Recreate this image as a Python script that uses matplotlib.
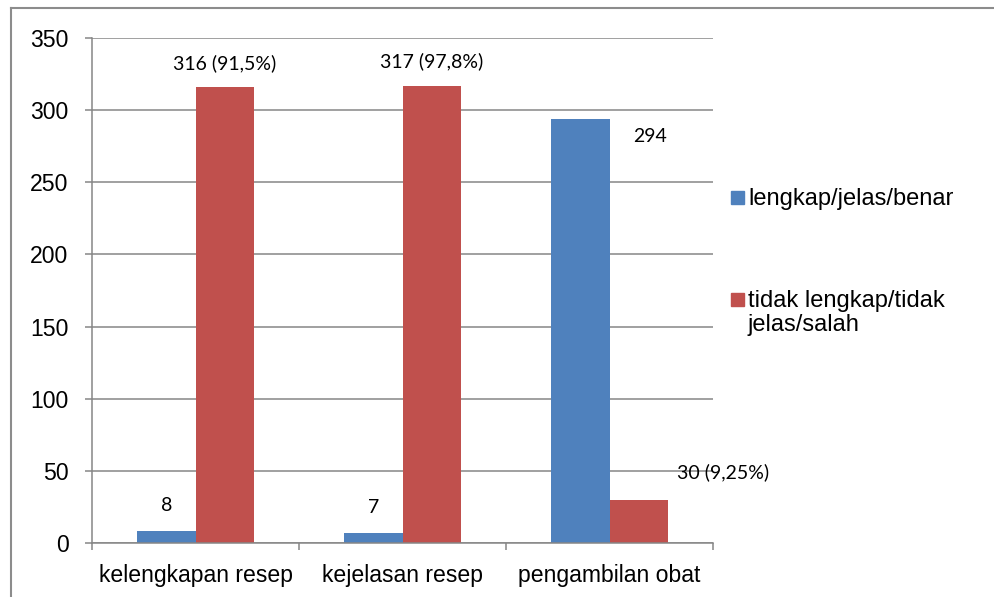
import matplotlib.pyplot as plt
import numpy as np
from matplotlib.patches import Rectangle
from matplotlib.lines import Line2D

categories = ["kelengkapan resep", "kejelasan resep", "pengambilan obat"]
series_names = ["lengkap/jelas/benar", "tidak lengkap/tidak\njelas/salah"]
benar = [8, 7, 294]
salah = [316, 317, 30]
benar_labels = ["8", "7", "294"]
salah_labels = ["316 (91,5%)", "317 (97,8%)", "30 (9,25%)"]
y_ticks = [0, 50, 100, 150, 200, 250, 300, 350]

colors = ["#4F81BD", "#C0504D"]
grid_color = "#868686"
num_font = "Lato"
txt_font = "Liberation Sans"
fs = 16.6

fig = plt.figure(figsize=(9.95, 5.97), dpi=100)
ax = fig.add_axes([0.0925, 0.0905, 0.6241, 0.8458])

x = np.arange(len(categories)) + 0.5
w = 0.283
bars_b = ax.bar(x - w / 2, benar, w, color=colors[0], zorder=3)
bars_s = ax.bar(x + w / 2, salah, w, color=colors[1], zorder=3)

ax.set_xlim(0, 3)
ax.set_ylim(0, 350)
ax.set_yticks(y_ticks)
ax.set_yticklabels([str(v) for v in y_ticks], fontsize=fs, family=txt_font)
ax.yaxis.grid(True, color=grid_color, lw=1.1, zorder=0)
ax.tick_params(axis="y", length=5, width=1.1, color=grid_color, pad=12)

ax.set_xticks([0, 1, 2, 3])
ax.set_xticklabels([])
ax.set_xticks(x, minor=True)
ax.set_xticklabels(categories, minor=True, fontsize=fs, family=txt_font)
ax.tick_params(axis="x", which="major", length=5, width=1.1, color=grid_color)
ax.tick_params(axis="x", which="minor", length=0, pad=15)

for s in ["top", "right"]:
    ax.spines[s].set_visible(False)
for s in ["left", "bottom"]:
    ax.spines[s].set_color(grid_color)
    ax.spines[s].set_linewidth(1.1)
    ax.spines[s].set_zorder(4)

# data labels, offsets in pixels from the bar tops
b_offsets = [(0, 26), (0, 25), (70, -18)]
s_offsets = [(0, 24), (0, 24), (84, 27)]
for bar, lab, off in zip(bars_b, benar_labels, b_offsets):
    ax.annotate(lab, (bar.get_x() + bar.get_width() / 2, bar.get_height()),
                xytext=off, textcoords="offset pixels", ha="center", va="center",
                fontsize=14, family=num_font)
for bar, lab, off in zip(bars_s, salah_labels, s_offsets):
    ax.annotate(lab, (bar.get_x() + bar.get_width() / 2, bar.get_height()),
                xytext=off, textcoords="offset pixels", ha="center", va="center",
                fontsize=14, family=num_font)

# legend on the right: marker sits beside the first text line
leg_y = [197, 299]
for name, c, yy in zip(series_names, colors, leg_y):
    fig.patches.append(Rectangle((731 / 995, 1 - (yy + 6.5) / 597), 13 / 995, 13 / 597,
                                 transform=fig.transFigure, color=c))
    fig.text(748 / 995, 1 - (yy - 9) / 597, name, fontsize=17, family=txt_font,
             va="top", ha="left", linespacing=1.1)

# outer frame (left and top edges only)
fig.add_artist(Line2D([11 / 995, 11 / 995], [0, 1 - 7.5 / 597], transform=fig.transFigure,
                      color="#8c8c8c", lw=1.5))
fig.add_artist(Line2D([11 / 995, 1], [1 - 7.5 / 597, 1 - 7.5 / 597], transform=fig.transFigure,
                      color="#8c8c8c", lw=1.5))

fig.savefig("out.png", dpi=100)
